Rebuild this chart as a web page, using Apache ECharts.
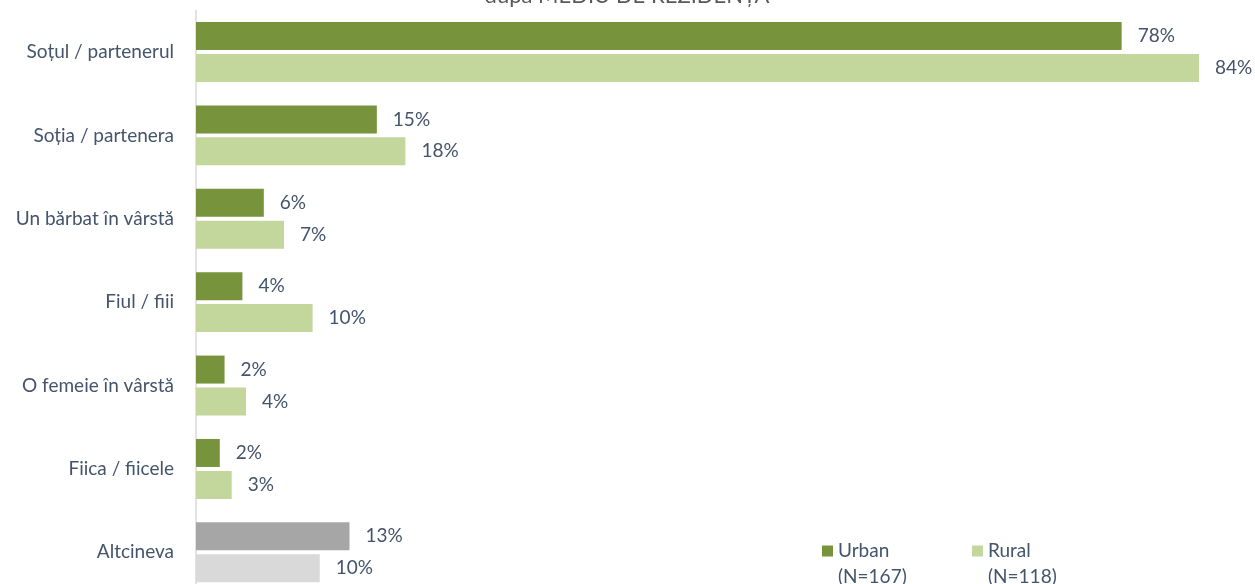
<!DOCTYPE html>
<html>
<head>
<meta charset="utf-8">
<script src="https://cdn.jsdelivr.net/npm/echarts@6/dist/echarts.min.js"></script>
<style>
html,body{margin:0;padding:0;background:#fff;overflow:hidden;width:1255px;height:584px;}
#chart{width:1255px;height:594px;}
</style>
</head>
<body>
<div id="chart"></div>
<script>
const categories = ['Soțul / partenerul', 'Soția / partenera', 'Un bărbat în vârstă', 'Fiul / fiii', 'O femeie în vârstă', 'Fiica / fiicele', 'Altcineva'];
const urbanValues = [77.8, 15.2, 5.7, 3.9, 2.4, 2.0, 12.9];
const ruralValues = [84.3, 17.6, 7.4, 9.8, 4.2, 3.0, 10.4];
const seriesNames = ['Urban', 'Rural'];
const sampleSizes = ['(N=167)', '(N=118)'];
const titleText = 'după MEDIU DE REZIDENȚĂ';

const FONT = 'Lato';
const TXT = '#44546A';
const FS = 19;
const colUrban = '#77933C', colRural = '#C3D69B';
const colOtherUrban = '#A6A6A6', colOtherRural = '#D9D9D9';

function build(values, base, other) {
  return values.map((v, i) => ({
    value: v,
    itemStyle: { color: categories[i] === 'Altcineva' ? other : base }
  }));
}

const labelCfg = {
  show: true, position: 'right', distance: 16,
  color: TXT, fontFamily: FONT, fontSize: FS,
  formatter: p => Math.round(p.value) + '%'
};

function legendCfg(idx, left) {
  return {
    data: [seriesNames[idx]],
    left: left, top: 512, padding: 0,
    itemWidth: 11, itemHeight: 11, itemGap: 0,
    icon: 'rect',
    selectedMode: false,
    formatter: name => '{h| }\n{a|' + name + '}\n{a|' + sampleSizes[idx] + '}',
    textStyle: {
      color: TXT, fontFamily: FONT, fontSize: FS,
      rich: {
        h: { height: 26, lineHeight: 26, fontSize: FS, fontFamily: FONT },
        a: { lineHeight: 26, height: 26, fontSize: FS, fontFamily: FONT, color: TXT }
      }
    }
  };
}

const chart = echarts.init(document.getElementById('chart'), null, { renderer: 'canvas' });
chart.setOption({
  animation: false,
  backgroundColor: '#ffffff',
  title: {
    text: titleText, left: 627, textAlign: 'center', top: -15, padding: 0,
    textStyle: { color: '#595959', fontFamily: FONT, fontSize: 22, fontWeight: 'normal' }
  },
  legend: [legendCfg(0, 822), legendCfg(1, 972)],
  grid: { left: 196, right: 12, top: 10.3, bottom: 0, containLabel: false },
  xAxis: {
    type: 'value', min: 0, max: 88, show: false
  },
  yAxis: {
    type: 'category', data: categories, inverse: true,
    axisLine: { show: true, lineStyle: { color: '#D9D9D9', width: 1.5 } },
    axisTick: { show: false },
    axisLabel: { color: TXT, fontFamily: FONT, fontSize: FS, margin: 22 },
    splitLine: { show: false }
  },
  series: [
    {
      name: seriesNames[0], type: 'bar', data: build(urbanValues, colUrban, colOtherUrban),
      itemStyle: { color: colUrban }, barWidth: 28, barGap: '14%', label: labelCfg
    },
    {
      name: seriesNames[1], type: 'bar', data: build(ruralValues, colRural, colOtherRural),
      itemStyle: { color: colRural }, barWidth: 28, barGap: '14%', label: labelCfg
    }
  ]
});
</script>
</body>
</html>
